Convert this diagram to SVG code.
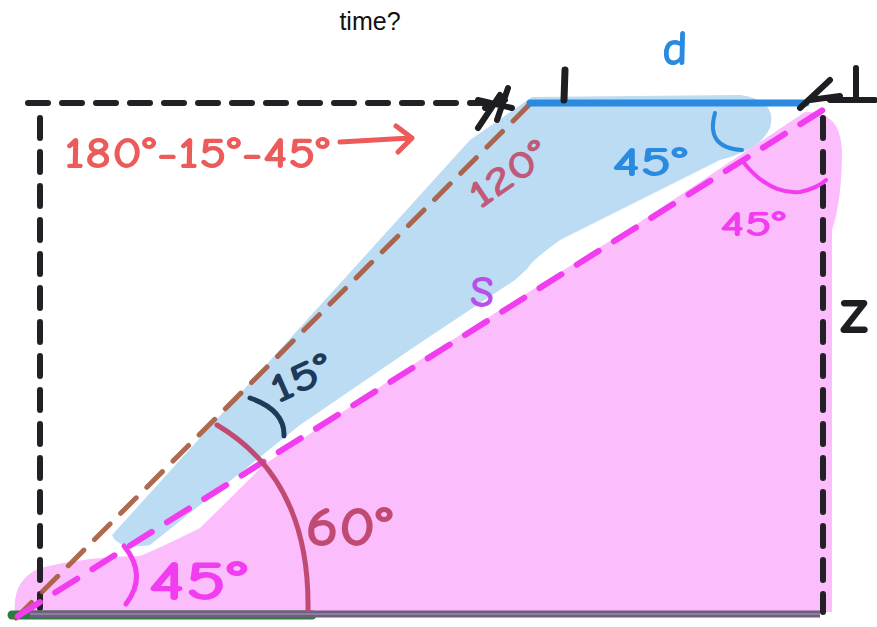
<svg xmlns="http://www.w3.org/2000/svg" width="877" height="627" viewBox="0 0 877 627">
<style>
.hw{font-family:"Comic Neue","Liberation Sans","DejaVu Sans",sans-serif;font-weight:bold}
.dashK{fill:none;stroke:#222226;stroke-width:6;stroke-linecap:round;stroke-dasharray:20 14}
.pen{fill:none;stroke-linecap:round;stroke-linejoin:round}
</style>
<rect width="877" height="627" fill="#ffffff"/>
<text x="370" y="30" font-family="Liberation Sans, Arial, sans-serif" font-size="25" text-anchor="middle" fill="#111">time?</text>
<g id="fills">
<path d="M532,97 L740,95 Q778,100 770,128 Q760,150 720,160 L560,240 Q530,262 528,268 L515,280 L420,343 L300,425 L150,545 Q118,550 112,535 L470,140 Z" fill="#bcdcf3"/>
<path d="M15,612 Q12,580 40,568 Q90,556 140,556 Q160,548 200,528 L265,464 L420,360 L540,285 L640,222 L805,112 Q840,110 842,150 Q842,200 832,230 L832,612 Z" fill="#fbbdfb"/>
</g>
<g id="frame">
<line class="dashK" x1="28" y1="103" x2="488" y2="103"/>
<line class="dashK" x1="40" y1="118" x2="40" y2="608"/>
<line class="dashK" x1="823" y1="118" x2="823" y2="612" stroke="#2b1f2d"/>
<line x1="12" y1="615" x2="312" y2="615" stroke="#2e7a45" stroke-width="9" stroke-linecap="round"/>
<line x1="30" y1="614" x2="820" y2="614" stroke="#6e5f80" stroke-width="7"/>
<line x1="30" y1="614" x2="820" y2="614" stroke="#9a8aa8" stroke-width="1.5"/>
</g>
<g id="connectors">
<line x1="16" y1="618" x2="530" y2="104" stroke="#a65a3f" stroke-width="5" stroke-linecap="round" stroke-dasharray="22 15" opacity="0.9"/>
<line x1="18" y1="616" x2="826" y2="108" stroke="#f23cf0" stroke-width="6" stroke-linecap="round" stroke-dasharray="26 18"/>
<line x1="530" y1="103" x2="806" y2="103" stroke="#2a8ae0" stroke-width="7" stroke-linecap="round"/>
</g>
<g id="marks">
<path class="pen" d="M478,128 L500,95 M485,108 L505,100 M497,120 L508,88 M478,100 L512,108" stroke="#1e1e22" stroke-width="6"/>
<path class="pen" d="M565,70 L564,100" stroke="#1e1e22" stroke-width="7"/>
<path class="pen" d="M800,108 L830,80 M810,100 L840,96 M856,68 L856,98 M830,100 L875,100" stroke="#1e1e22" stroke-width="6"/>
<path class="pen" d="M715,113 Q705,148 742,150" stroke="#2a8ae0" stroke-width="4"/>
<path class="pen" d="M744,163 Q770,195 800,192 Q818,188 826,180" stroke="#f23cf0" stroke-width="4"/>
<path class="pen" d="M250,398 Q285,410 284,436" stroke="#1e3a5a" stroke-width="5"/>
<path class="pen" d="M217,425 Q310,480 308,610" stroke="#c04a72" stroke-width="5"/>
<path class="pen" d="M124,546 Q148,575 126,604" stroke="#f23cf0" stroke-width="5"/>
<path class="pen" d="M340,142 L410,138 M396,126 L412,138 L398,152" stroke="#ec5a5a" stroke-width="5"/>
</g>
<g id="labels">
<text class="hw" x="675" y="65" font-size="50" fill="#2a8ae0" text-anchor="middle">d</text>
<text class="hw" x="64" y="168" font-size="44" fill="#ec5a5a" textLength="266" lengthAdjust="spacingAndGlyphs">180°-15°-45°</text>
<text class="hw" x="480" y="210" font-size="40" fill="#c05a78" transform="rotate(-35 480 210)" textLength="88" lengthAdjust="spacingAndGlyphs">120°</text>
<text class="hw" x="612" y="176" font-size="42" fill="#2a8ae0" textLength="76" lengthAdjust="spacingAndGlyphs">45°</text>
<text class="hw" x="720" y="236" font-size="36" fill="#f23cf0" textLength="66" lengthAdjust="spacingAndGlyphs">45°</text>
<text class="hw" x="470" y="307" font-size="44" fill="#b94ee8">S</text>
<text class="hw" x="840" y="333" font-size="66" fill="#1e1e22">z</text>
<text class="hw" x="278" y="404" font-size="42" fill="#1e3a5a" transform="rotate(-25 278 404)" textLength="64" lengthAdjust="spacingAndGlyphs">15°</text>
<text class="hw" x="305" y="546" font-size="56" fill="#c04a72" textLength="88" lengthAdjust="spacingAndGlyphs">60°</text>
<text class="hw" x="148" y="600" font-size="56" fill="#f23cf0" textLength="100" lengthAdjust="spacingAndGlyphs">45°</text>
</g>
</svg>
